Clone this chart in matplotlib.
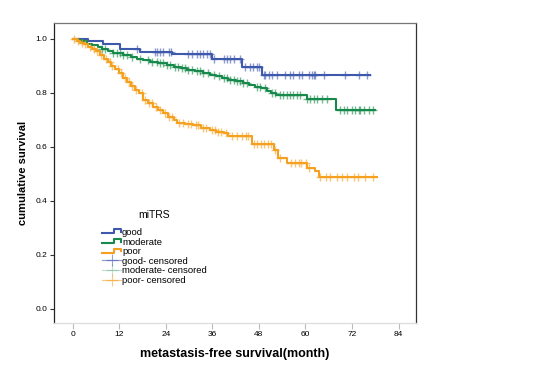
import numpy as np
import matplotlib
matplotlib.use("Agg")
import matplotlib.pyplot as plt
from matplotlib.lines import Line2D
from matplotlib.legend_handler import HandlerBase

plt.rcParams['font.family'] = ['Liberation Sans', 'DejaVu Sans']

# step curves: time of each drop (months) and survival after it
good_t = [0, 4.0, 7.9, 12.2, 17.4, 25.5, 35.9, 43.6, 48.8]
good_s = [1.0, 0.991, 0.981, 0.963, 0.950, 0.941, 0.926, 0.895, 0.864]
good_end = 76.7
good_cens = [16.5, 21.2, 21.7, 22.5, 23.4, 24.7, 25.3, 29.8, 30.7, 32.0, 32.8, 33.7,
             34.6, 35.4, 36.3, 38.9, 39.7, 40.6, 41.5, 43.2, 44.5, 45.7, 46.6, 47.5,
             47.9, 49.2, 49.6, 50.5, 51.3, 52.6, 54.8, 56.1, 56.9, 58.2, 59.1, 60.8,
             61.7, 62.1, 62.5, 64.7, 70.3, 73.7, 75.9]

mod_t = [0, 1.0, 2.5, 3.6, 5.0, 6.5, 7.5, 9.0, 10.5, 13.0, 15.0, 16.5, 18.0, 20.0,
         22.0, 24.3, 26.0, 28.0, 29.5, 31.5, 33.7, 35.5, 37.0, 38.5, 40.0, 42.0,
         44.0, 45.5, 47.0, 48.5, 50.0, 51.0, 52.3, 60.4, 67.9]
mod_s = [1.0, 0.995, 0.99, 0.981, 0.975, 0.968, 0.962, 0.955, 0.946, 0.94, 0.933,
         0.926, 0.92, 0.913, 0.908, 0.901, 0.896, 0.89, 0.885, 0.879, 0.873, 0.866,
         0.86, 0.853, 0.848, 0.842, 0.836, 0.829, 0.822, 0.815, 0.806, 0.798, 0.790,
         0.776, 0.735]
mod_end = 78.0
mod_cens = [7.5, 8.3, 10.5, 11.3, 12.2, 13.1, 13.9, 15.2, 17.4, 19.5, 20.4, 21.7,
            22.5, 23.4, 24.3, 25.1, 26.4, 27.2, 28.1, 29.0, 29.8, 30.7, 32.0, 32.8,
            33.7, 35.0, 36.3, 37.6, 38.9, 39.7, 40.6, 41.5, 42.3, 43.2, 44.0, 44.9,
            47.5, 48.3, 49.6, 51.3, 52.2, 53.5, 54.3, 55.2, 56.1, 56.9, 57.8, 58.6,
            60.4, 61.2, 62.1, 62.9, 64.2, 65.5, 69.0, 69.8, 70.7, 72.0, 72.8, 73.7,
            74.1, 75.0, 76.3, 77.5]

poor_t = [0, 1, 2, 3, 4, 5, 6, 7, 8, 9, 10, 11, 12, 13, 14, 15, 16, 17, 18.2, 19.5,
          20.8, 22.0, 23.4, 24.5, 26.0, 26.8, 29.0, 31.0, 33.0, 35.4, 37.0, 38.9,
          40.1, 46.3, 51.8, 53.0, 55.2, 60.5, 62.5, 63.4]
poor_s = [1.0, 0.99, 0.985, 0.978, 0.97, 0.962, 0.952, 0.94, 0.925, 0.912, 0.9,
          0.888, 0.872, 0.855, 0.84, 0.825, 0.81, 0.797, 0.772, 0.76, 0.747, 0.735,
          0.723, 0.71, 0.698, 0.688, 0.684, 0.679, 0.67, 0.661, 0.655, 0.649, 0.638,
          0.611, 0.587, 0.556, 0.541, 0.519, 0.51, 0.488]
poor_end = 78.4
poor_cens = [0.3, 1.5, 2.4, 3.3, 4.5, 5.6, 6.3, 7.4, 8.6, 9.5, 10.2, 11.6, 12.5,
             13.4, 14.6, 15.3, 16.4, 17.8, 18.7, 19.8, 20.5, 21.4, 22.6, 23.8, 24.9,
             25.6, 27.3, 28.4, 29.6, 30.5, 31.7, 32.4, 33.6, 34.3, 35.8, 36.6, 37.5,
             38.3, 39.4, 41.0, 42.3, 43.6, 44.6, 45.3, 46.8, 47.6, 48.5, 49.3, 50.4,
             51.2, 52.2, 53.4, 56.3, 57.2, 58.2, 58.9, 60.1, 61.0, 63.8, 65.2, 66.4,
             68.1, 69.4, 70.7, 72.5, 73.6, 75.4, 77.3]

series = [
    ("good", good_t, good_s, good_end, good_cens, "#3e58ac"),
    ("moderate", mod_t, mod_s, mod_end, mod_cens, "#17894a"),
    ("poor", poor_t, poor_s, poor_end, poor_cens, "#f5a01f"),
]

fig = plt.figure(figsize=[5.57, 3.67], dpi=100)
ax = fig.add_axes([0.097, 0.12, 0.65, 0.817])

for name, t, s, end, cens, col in series:
    tt = np.append(t, end)
    ss = np.append(s, s[-1])
    ax.step(tt, ss, where='post', color=col, lw=1.5, zorder=3)
for name, t, s, end, cens, col in series:
    idx = np.searchsorted(t, cens, side='right') - 1
    cy = np.array(s)[idx]
    ax.plot(cens, cy, ls='none', marker='+', ms=5.5, mew=1.0, color=col,
            alpha=0.6, zorder=4)

ax.set_xlim(-4.8, 88.5)
ax.set_ylim(-0.053, 1.057)
ax.set_xticks([0, 12, 24, 36, 48, 60, 72, 84])
ax.set_xticklabels(["0", "12", "24", "36", "48", "60", "72", "84"])
ax.set_yticks([0.0, 0.2, 0.4, 0.6, 0.8, 1.0])
ax.set_yticklabels(["0.0", "0.2", "0.4", "0.6", "0.8", "1.0"])
ax.tick_params(axis='x', length=4, width=0.8, color='#bbbbbb', labelsize=6, pad=2)
ax.tick_params(axis='y', length=3, width=0.8, color='#333333', labelsize=6, pad=2)
ax.spines['left'].set_color('#222222')
ax.spines['right'].set_color('#333333')
ax.spines['top'].set_color('#777777')
ax.spines['bottom'].set_color('#dddddd')
for sp in ax.spines.values():
    sp.set_linewidth(0.9)

ax.set_xlabel("metastasis-free survival(month)", fontsize=9, fontweight='bold', labelpad=7)
ax.set_ylabel("cumulative survival", fontsize=8, fontweight='bold', labelpad=5)


class StepHandler(HandlerBase):
    def create_artists(self, legend, orig_handle, xdescent, ydescent, width, height,
                       fontsize, trans):
        x = np.array([0, 0.62, 0.62, 1.0, 1.0]) * width - xdescent
        y = np.array([0.25, 0.25, 0.85, 0.85, 0.45]) * height - ydescent
        ln = Line2D(x, y, color=orig_handle.get_color(), lw=1.5, transform=trans)
        return [ln]


handles = []
labels = []
hmap = {}
for name, t, s, end, cens, col in series:
    h = Line2D([], [], color=col)
    handles.append(h)
    labels.append(name)
    hmap[h] = StepHandler()
for name, t, s, end, cens, col in series:
    a = 0.25 if name == "moderate" else 0.55
    h = Line2D([], [], color=col, marker='+', ms=8, mew=0.8, lw=0.9, alpha=a)
    handles.append(h)
    labels.append(name + "- censored")

leg = ax.legend(handles, labels, handler_map=hmap, title="miTRS", loc='lower left',
                bbox_to_anchor=(0.115, 0.105), frameon=False, fontsize=6.8,
                title_fontsize=7.5, handlelength=2.0, handletextpad=0.1,
                labelspacing=0.06, borderpad=0.2)
leg._legend_box.sep = 5.5

fig.savefig("out.png", dpi=100)
